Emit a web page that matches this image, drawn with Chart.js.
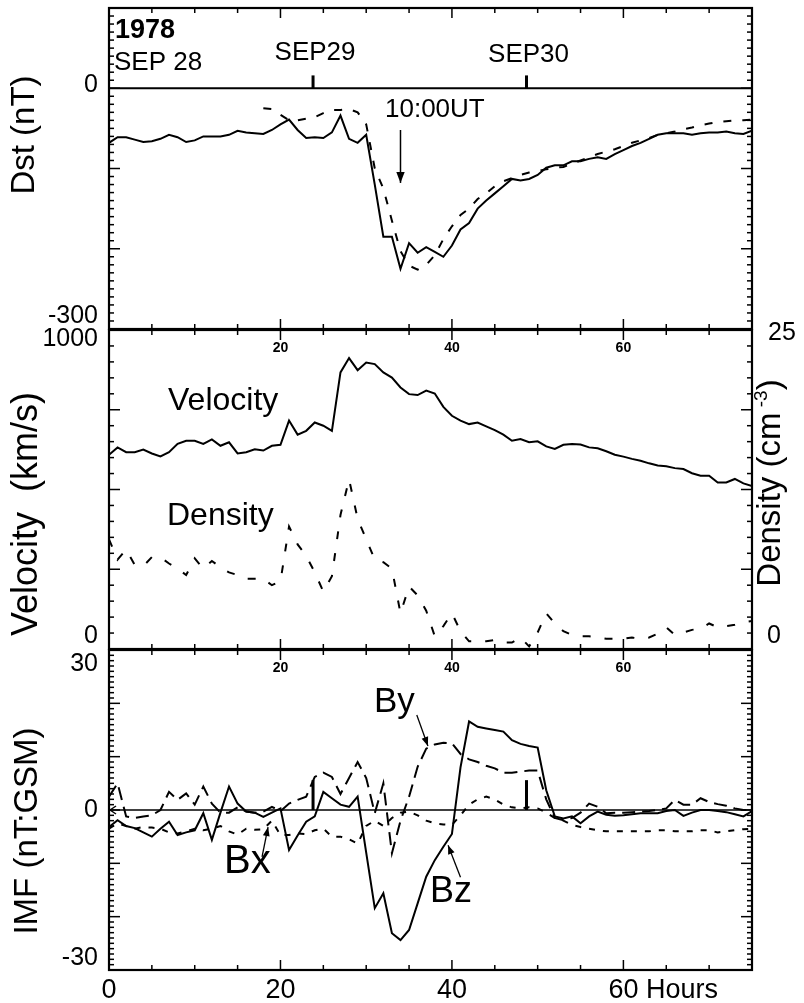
<!DOCTYPE html>
<html>
<head>
<meta charset="utf-8">
<script src="https://cdn.jsdelivr.net/npm/chart.js@4.4.0/dist/chart.umd.min.js"></script>
<style>
  html, body { margin: 0; padding: 0; background: #fff; }
  #wrap { position: relative; width: 804px; height: 1003px; }
  #wrap canvas { position: absolute; left: 0; top: 0; }
</style>
</head>
<body>
<div id="wrap">
  <canvas id="dstChart" width="804" height="1003"></canvas>
  <canvas id="swChart" width="804" height="1003"></canvas>
  <canvas id="imfChart" width="804" height="1003"></canvas>
</div>
<script>
// hourly samples starting 1978 Sep 28 00 UT
const hours = [0,1,2,3,4,5,6,7,8,9,10,11,12,13,14,15,16,17,18,19,
  20,21,22,23,24,25,26,27,28,29,30,31,32,33,34,35,36,37,38,39,
  40,41,42,43,44,45,46,47,48,49,50,51,52,53,54,55,56,57,58,59,
  60,61,62,63,64,65,66,67,68,69,70,71,72,73,74,75];

// Dst index (nT): observed and model
const dstObserved = [-68,-61,-61,-64,-67,-66,-63,-58,-61,-67,
  -65,-60,-60,-60,-58,-53,-55,-56,-57,-52,
  -45,-39,-52,-62,-61,-62,-55,-34,-63,-68,
  -58,-120,-185,-185,-225,-193,-205,-198,-204,-210,
  -196,-176,-168,-150,-140,-131,-122,-113,-115,-113,
  -108,-99,-96,-96,-91,-91,-88,-86,-88,-82,
  -77,-72,-68,-63,-58,-56,-56,-56,-58,-56,
  -55,-55,-54,-56,-57,-53];
const dstModel = [null,null,null,null,null,null,null,null,null,null,
  null,null,null,null,null,null,null,null,-25,-26,
  -33,-40,-40,-38,-36,-31,-27,-27,-26,-30,
  -45,-100,-125,-165,-203,-221,-226,-220,-208,-188,
  -172,-158,-150,-138,-131,-122,-116,-112,-108,-105,
  -103,-101,-99,-98,-94,-90,-86,-82,-79,-76,
  -72,-68,-65,-62,-58,-56,-54,-51,-49,-46,
  -44,-42,-41,-40,-40,-39];

// solar wind speed (km/s) and proton density (cm-3)
const velocity = [609,632,617,617,625,613,604,617,643,653,
  653,643,657,637,648,613,617,626,622,637,
  640,716,672,684,710,700,684,867,912,874,
  898,893,867,851,820,799,796,810,801,759,
  731,716,705,710,698,686,672,653,658,648,
  651,635,627,640,643,641,632,629,620,609,
  603,596,590,582,575,573,567,564,551,543,
  543,522,522,533,519,511];
const density = [8.6,7.0,7.8,6.6,6.5,7.2,7.2,6.7,6.3,5.8,
  7.1,6.3,6.9,6.4,6.0,5.8,5.5,5.5,5.5,5.0,
  5.3,9.6,8.2,7.3,6.0,4.5,5.7,10.5,13.3,10.2,
  8.6,7.0,6.8,6.3,2.8,4.9,4.2,3.0,1.0,1.8,
  2.8,1.4,0.6,0.6,0.6,0.7,0.5,0.5,0.9,0.2,
  1.3,2.8,2.0,1.4,1.1,1.0,1.0,0.9,0.8,0.8,
  0.8,0.9,0.8,0.9,1.2,1.7,1.1,1.3,1.5,1.6,
  2.0,1.7,1.8,1.9,2.1,2.2];

// IMF components in GSM (nT)
const bx = [-3.5,-2.5,-3.0,-3.5,-3.2,-3.3,-3.5,-4.2,-4.4,-4.0,
  -3.5,-3.8,-3.5,-3.0,-4.0,-4.6,-3.5,-3.7,-3.6,-2.0,
  -4.7,-4.7,-4.4,-4.5,-3.8,-3.5,-5.0,-5.0,-5.5,-6.3,
  -3.0,-2.0,-3.0,-1.5,-0.5,-0.3,-1.0,-2.0,-2.5,-2.7,
  -2.8,-1.0,1.0,2.0,2.5,2.0,1.0,0.5,0.3,0.5,
  0.3,-0.5,-1.5,-2.0,-2.8,-3.2,-3.5,-3.8,-4.0,-4.0,
  -4.0,-4.0,-4.0,-4.0,-3.8,-3.8,-4.0,-4.0,-4.0,-3.8,
  -3.8,-4.2,-4.0,-3.8,-3.6,-3.5];
const by = [2.5,5.0,-1.2,-1.5,-1.2,-1.0,0.0,3.4,1.9,3.1,
  1.0,4.4,1.2,-0.5,-0.5,0.5,-0.3,-0.5,-0.3,0.6,
  -0.2,1.2,1.9,2.5,6.2,7.0,6.2,3.0,6.0,9.0,
  6.0,-0.6,5.0,-8.1,-2.0,2.5,8.1,11.5,12.3,12.6,
  12.5,10.5,9.5,9.0,8.3,7.8,7.0,7.0,7.2,7.4,
  7.4,2.0,-1.5,-1.9,-1.5,-0.5,1.2,0.6,-0.6,-0.5,
  -0.5,-0.4,-0.3,-0.2,0.0,0.3,1.9,1.0,1.0,2.2,
  1.5,1.1,0.8,0.3,0.0,0.0];
const bz = [-3.2,-1.9,-3.0,-3.4,-4.2,-5.0,-3.5,-2.2,-4.7,-4.2,
  -3.8,-0.6,-5.6,-0.5,4.4,1.2,-0.3,-0.5,-1.3,-0.5,
  0.3,-7.5,-4.8,-2.2,-1.2,3.4,2.2,1.0,0.6,2.5,
  -8.0,-18.4,-15.6,-23.1,-24.4,-22.5,-17.5,-12.5,-9.4,-6.9,
  -4.5,8.0,16.6,15.6,15.3,15.0,14.7,13.1,12.4,12.0,
  11.7,3.7,-1.2,-1.6,-1.2,-2.5,-1.2,-0.3,-0.9,-1.1,
  -1.0,-0.8,-0.6,-0.6,-0.6,-0.2,0.0,-1.1,-0.5,0.0,
  0.0,-0.2,-0.4,-0.8,-1.2,-0.2];

// day boundaries (hours) and their names
const dayHours = [23.8, 48.7];
const dayNames = ['SEP29', 'SEP30'];
const hourLabels = [20, 40, 60];

const FONT = '"Liberation Sans", Arial, Helvetica, sans-serif';

function pts(values) {
  return hours.map((h, i) => ({ x: h, y: values[i] }));
}

function setFont(ctx, size, bold) {
  ctx.font = (bold ? 'bold ' : '') + size + 'px ' + FONT;
}

function text(ctx, str, x, y, size, opts) {
  opts = opts || {};
  ctx.save();
  setFont(ctx, size, opts.bold);
  ctx.fillStyle = '#000';
  ctx.textAlign = opts.align || 'left';
  ctx.textBaseline = opts.baseline || 'alphabetic';
  ctx.fillText(str, x, y);
  ctx.restore();
}

function vtext(ctx, str, cx, cy, size) {
  ctx.save();
  ctx.translate(cx, cy);
  ctx.rotate(-Math.PI / 2);
  text(ctx, str, 0, 0, size, { align: 'center', baseline: 'middle' });
  ctx.restore();
}

function seg(ctx, x1, y1, x2, y2) {
  ctx.beginPath();
  ctx.moveTo(x1, y1);
  ctx.lineTo(x2, y2);
  ctx.stroke();
}

function arrow(ctx, x1, y1, x2, y2, head) {
  seg(ctx, x1, y1, x2, y2);
  const a = Math.atan2(y2 - y1, x2 - x1);
  const w = head * 0.38;
  ctx.beginPath();
  ctx.moveTo(x2, y2);
  ctx.lineTo(x2 - head * Math.cos(a) + w * Math.sin(a), y2 - head * Math.sin(a) - w * Math.cos(a));
  ctx.lineTo(x2 - head * Math.cos(a) - w * Math.sin(a), y2 - head * Math.sin(a) + w * Math.cos(a));
  ctx.closePath();
  ctx.fill();
}

// box with inward ticks on all four sides
function drawFrame(chart, yStep, yMajor) {
  const { ctx, chartArea: a, scales: { x, y } } = chart;
  ctx.save();
  ctx.strokeStyle = '#000';
  ctx.fillStyle = '#000';
  ctx.lineWidth = 1.5;
  for (let h = 5; h < 75; h += 5) {
    const px = x.getPixelForValue(h);
    const len = h % 20 === 0 ? 10 : 5;
    seg(ctx, px, a.top, px, a.top + len);
    seg(ctx, px, a.bottom, px, a.bottom - len);
  }
  const n = Math.round((y.max - y.min) / yStep);
  for (let i = 1; i < n; i++) {
    const v = y.min + i * yStep;
    const q = v / yMajor;
    const len = Math.abs(q - Math.round(q)) < 1e-6 ? 11 : 5;
    const py = y.getPixelForValue(v);
    seg(ctx, a.left, py, a.left + len, py);
    seg(ctx, a.right, py, a.right - len, py);
  }
  ctx.lineWidth = 2.2;
  ctx.strokeRect(a.left, a.top, a.right - a.left, a.bottom - a.top);
  ctx.restore();
}

function innerHourLabels(chart) {
  const { ctx, chartArea: a, scales: { x } } = chart;
  hourLabels.forEach(h => text(ctx, String(h), x.getPixelForValue(h), a.top + 22, 14, { align: 'center', bold: true }));
}

function baseOptions(top, bottom, yMin, yMax) {
  return {
    responsive: false,
    animation: false,
    events: [],
    layout: { padding: { left: 109, right: 52, top: top, bottom: 1003 - bottom } },
    plugins: { legend: { display: false }, tooltip: { enabled: false } },
    scales: {
      x: { type: 'linear', min: 0, max: 75, display: false },
      y: { type: 'linear', min: yMin, max: yMax, display: false }
    },
    elements: { point: { radius: 0 }, line: { tension: 0, borderWidth: 2, borderColor: '#000' } }
  };
}

// ---- Dst panel ----
const dstDecor = {
  id: 'dstDecor',
  afterDraw(chart) {
    const { ctx, chartArea: a, scales: { x, y } } = chart;
    ctx.save();
    ctx.strokeStyle = '#000';
    ctx.fillStyle = '#000';
    // zero line and day marks
    ctx.lineWidth = 2;
    seg(ctx, a.left, y.getPixelForValue(0), a.right, y.getPixelForValue(0));
    ctx.lineWidth = 3;
    dayHours.forEach((h, i) => {
      const px = x.getPixelForValue(h);
      seg(ctx, px, y.getPixelForValue(0), px, y.getPixelForValue(16));
      text(ctx, dayNames[i], px + 2, i === 0 ? 60 : 62, 26, { align: 'center' });
    });
    text(ctx, '1978', a.left + 6, 38, 27, { bold: true });
    text(ctx, 'SEP 28', a.left + 5, 70, 26);
    text(ctx, '10:00UT', 385, 117, 26);
    ctx.lineWidth = 1.5;
    const ax = x.getPixelForValue(34);
    arrow(ctx, ax, y.getPixelForValue(-52), ax, y.getPixelForValue(-118), 11);
    ctx.restore();
    drawFrame(chart, 10, 100);
    text(ctx, '0', 98, y.getPixelForValue(0) - 3, 25, { align: 'right', baseline: 'middle' });
    text(ctx, '-300', 98, y.getPixelForValue(-300) - 13, 25, { align: 'right', baseline: 'middle' });
    vtext(ctx, 'Dst (nT)', 25, 135, 33);
  }
};

new Chart(document.getElementById('dstChart'), {
  type: 'line',
  data: {
    datasets: [
      { data: pts(dstObserved), borderWidth: 2 },
      { data: pts(dstModel), borderWidth: 2, borderDash: [8, 11] }
    ]
  },
  options: baseOptions(8, 329, -300, 100),
  plugins: [dstDecor]
});

// ---- velocity / density panel ----
const swDecor = {
  id: 'swDecor',
  afterDraw(chart) {
    const { ctx, scales: { y, y2 } } = chart;
    drawFrame(chart, 50, 250);
    innerHourLabels(chart);
    text(ctx, 'Velocity', 168, 410, 32);
    text(ctx, 'Density', 167, 525, 32);
    text(ctx, '1000', 98, y.getPixelForValue(1000) + 9, 25, { align: 'right', baseline: 'middle' });
    text(ctx, '0', 98, y.getPixelForValue(0) - 13, 25, { align: 'right', baseline: 'middle' });
    text(ctx, '25', 768, y2.getPixelForValue(25) + 3, 25, { baseline: 'middle' });
    text(ctx, '0', 767, y2.getPixelForValue(0) - 13, 25, { baseline: 'middle' });
    vtext(ctx, 'Velocity  (km/s)', 27, 514, 36);
    // right-hand title with superscript exponent
    ctx.save();
    ctx.translate(771, 483);
    ctx.rotate(-Math.PI / 2);
    setFont(ctx, 33);
    const main = 'Density (cm', close = ')';
    const wMain = ctx.measureText(main).width;
    const wClose = ctx.measureText(close).width;
    setFont(ctx, 19);
    const wSup = ctx.measureText(' -3').width;
    const sx = -(wMain + wSup + wClose) / 2;
    text(ctx, main, sx, 0, 33, { baseline: 'middle' });
    text(ctx, ' -3', sx + wMain, -9, 19, { baseline: 'middle' });
    text(ctx, close, sx + wMain + wSup, 0, 33, { baseline: 'middle' });
    ctx.restore();
  }
};

const swOptions = baseOptions(330, 649, 0, 1000);
swOptions.scales.y2 = { type: 'linear', position: 'right', min: 0, max: 25, display: false };
new Chart(document.getElementById('swChart'), {
  type: 'line',
  data: {
    datasets: [
      { data: pts(velocity), borderWidth: 2, yAxisID: 'y' },
      { data: pts(density), borderWidth: 2, borderDash: [8, 14], yAxisID: 'y2' }
    ]
  },
  options: swOptions,
  plugins: [swDecor]
});

// ---- IMF panel ----
const imfDecor = {
  id: 'imfDecor',
  afterDraw(chart) {
    const { ctx, chartArea: a, scales: { x, y } } = chart;
    ctx.save();
    ctx.strokeStyle = '#000';
    ctx.fillStyle = '#000';
    ctx.lineWidth = 1.5;
    const y0 = y.getPixelForValue(0);
    seg(ctx, a.left, y0, a.right, y0);
    seg(ctx, a.left + 1, y0, a.left + 7, y0 - 4);
    seg(ctx, a.left + 1, y0, a.left + 7, y0 + 4);
    ctx.lineWidth = 3;
    dayHours.forEach(h => {
      const px = x.getPixelForValue(h);
      seg(ctx, px, y0, px, y.getPixelForValue(5.6));
    });
    ctx.lineWidth = 1.3;
    arrow(ctx, x.getPixelForValue(35.9), y.getPixelForValue(17.8), x.getPixelForValue(37.2), y.getPixelForValue(12.0), 9);
    arrow(ctx, x.getPixelForValue(17.85), y.getPixelForValue(-8.8), x.getPixelForValue(18.55), y.getPixelForValue(-3.2), 9);
    arrow(ctx, x.getPixelForValue(41.0), y.getPixelForValue(-12.6), x.getPixelForValue(39.55), y.getPixelForValue(-6.6), 9);
    ctx.restore();
    drawFrame(chart, 1, 10);
    innerHourLabels(chart);
    text(ctx, 'By', 374, 712, 35);
    text(ctx, 'Bx', 224, 873, 40);
    text(ctx, 'Bz', 430, 902, 36);
    text(ctx, '30', 98, y.getPixelForValue(30) + 14, 25, { align: 'right', baseline: 'middle' });
    text(ctx, '0', 98, y0, 25, { align: 'right', baseline: 'middle' });
    text(ctx, '-30', 98, y.getPixelForValue(-30) - 12, 25, { align: 'right', baseline: 'middle' });
    [0, 20, 40].forEach(h => text(ctx, String(h), x.getPixelForValue(h), 998, 27, { align: 'center' }));
    setFont(ctx, 27);
    const w60 = ctx.measureText('60').width;
    text(ctx, '60 Hours', x.getPixelForValue(60) - w60 / 2, 998, 27);
    vtext(ctx, 'IMF (nT:GSM)', 28, 831, 33);
  }
};

new Chart(document.getElementById('imfChart'), {
  type: 'line',
  data: {
    datasets: [
      { data: pts(bz), borderWidth: 2 },
      { data: pts(by), borderWidth: 2, borderDash: [13, 7] },
      { data: pts(bx), borderWidth: 2, borderDash: [6, 8] }
    ]
  },
  options: baseOptions(650, 970, -30, 30),
  plugins: [imfDecor]
});
</script>
</body>
</html>
